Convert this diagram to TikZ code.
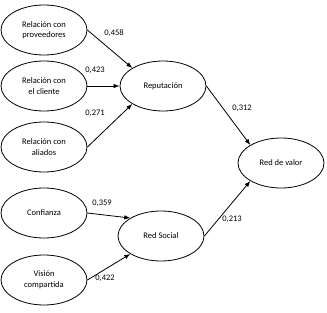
\documentclass[tikz,border=0pt]{standalone}
\usepackage{fontspec}
\setmainfont{Carlito}
\usetikzlibrary{shapes.geometric,arrows.meta}

\begin{document}
\begin{tikzpicture}[
  x=1pt, y=-1pt,
  var/.style={draw, ellipse, line width=0.8pt, minimum width=86pt, minimum height=50pt,
    inner sep=0pt, align=center, font=\fontsize{8.5}{10.5}\selectfont},
  coef/.style={font=\fontsize{8.5}{10.5}\selectfont, inner sep=0pt},
  path/.style={-{Latex[length=6pt,width=4.5pt]}, line width=0.8pt}
]
\useasboundingbox (0,0) rectangle (327,313);
\node[var] (prov) at (44,30) {Relación con\\proveedores};
\node[var] (cli) at (44,86) {Relación con\\el cliente};
\node[var] (ali) at (44,147) {Relación con\\aliados};
\node[var] (conf) at (44,213) {Confianza};
\node[var] (vis) at (44,280) {Visión\\compartida};
\node[var] (rep) at (163,86) {Reputación};
\node[var] (soc) at (161,236) {Red Social};
\node[var] (valor) at (281,163) {Red de valor};
\draw[path] (prov.east) -- (rep.north west);
\draw[path] (cli) -- (rep);
\draw[path] (ali.east) -- (rep.south west);
\draw[path] (conf.east) -- (soc.north west);
\draw[path] (vis.east) -- (soc.south west);
\draw[path] (rep.east) -- (valor.north west);
\draw[path] (soc.east) -- (valor.south west);
\node[coef] (c1) at (114,33) {0,458};
\node[coef] (c2) at (95,70) {0,423};
\node[coef] (c3) at (95,113) {0,271};
\node[coef] (c4) at (242,108) {0,312};
\node[coef] (c5) at (102,203) {0,359};
\node[coef] (c6) at (105,278) {0,422};
\node[coef] (c7) at (232,219) {0,213};
\end{tikzpicture}
\end{document}
